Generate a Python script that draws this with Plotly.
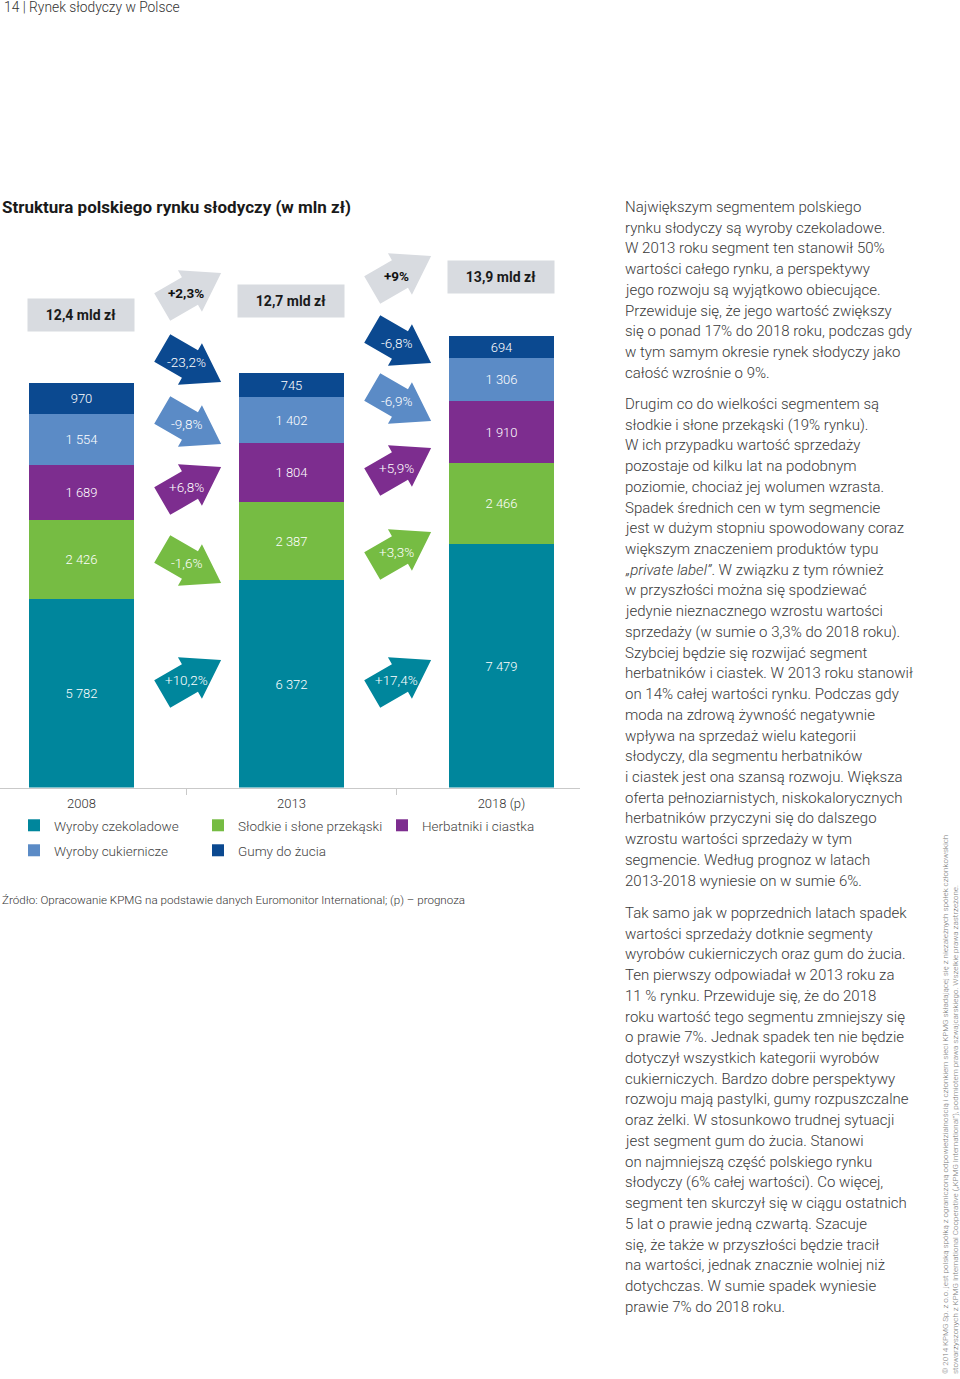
import math
import plotly.graph_objects as go

# ---------------- data ----------------
YEARS = ["2008", "2013", "2018 (p)"]
SERIES = ["Wyroby czekoladowe", "Słodkie i słone przekąski", "Herbatniki i ciastka",
          "Wyroby cukiernicze", "Gumy do żucia"]
CHOCOLATE = [5782, 6372, 7479]
SNACKS = [2426, 2387, 2466]
BISCUITS = [1689, 1804, 1910]
CONFECTIONERY = [1554, 1402, 1306]
GUM = [970, 745, 694]
CHANGE_2008_2013 = ["+10,2%", "-1,6%", "+6,8%", "-9,8%", "-23,2%"]
CHANGE_2013_2018 = ["+17,4%", "+3,3%", "+5,9%", "-6,9%", "-6,8%"]
TOTAL_CHANGE = ["+2,3%", "+9%"]

HEADER = "14 | Rynek słodyczy w Polsce"
TITLE = "Struktura polskiego rynku słodyczy (w mln zł)"
SOURCE = "Źródło: Opracowanie KPMG na podstawie danych Euromonitor International; (p) – prognoza"
PARAGRAPHS = [
    ["Największym segmentem polskiego",
     "rynku słodyczy są wyroby czekoladowe.",
     "W 2013 roku segment ten stanowił 50%",
     "wartości całego rynku, a perspektywy",
     "jego rozwoju są wyjątkowo obiecujące.",
     "Przewiduje się, że jego wartość zwiększy",
     "się o ponad 17% do 2018 roku, podczas gdy",
     "w tym samym okresie rynek słodyczy jako",
     "całość wzrośnie o 9%."],
    ["Drugim co do wielkości segmentem są",
     "słodkie i słone przekąski (19% rynku).",
     "W ich przypadku wartość sprzedaży",
     "pozostaje od kilku lat na podobnym",
     "poziomie, chociaż jej wolumen wzrasta.",
     "Spadek średnich cen w tym segmencie",
     "jest w dużym stopniu spowodowany coraz",
     "większym znaczeniem produktów typu",
     "<i>„private label”</i>. W związku z tym również",
     "w przyszłości można się spodziewać",
     "jedynie nieznacznego wzrostu wartości",
     "sprzedaży (w sumie o 3,3% do 2018 roku).",
     "Szybciej będzie się rozwijać segment",
     "herbatników i ciastek. W 2013 roku stanowił",
     "on 14% całej wartości rynku. Podczas gdy",
     "moda na zdrową żywność negatywnie",
     "wpływa na sprzedaż wielu kategorii",
     "słodyczy, dla segmentu herbatników",
     "i ciastek jest ona szansą rozwoju. Większa",
     "oferta pełnoziarnistych, niskokalorycznych",
     "herbatników przyczyni się do dalszego",
     "wzrostu wartości sprzedaży w tym",
     "segmencie. Według prognoz w latach",
     "2013-2018 wyniesie on w sumie 6%."],
    ["Tak samo jak w poprzednich latach spadek",
     "wartości sprzedaży dotknie segmenty",
     "wyrobów cukierniczych oraz gum do żucia.",
     "Ten pierwszy odpowiadał w 2013 roku za",
     "11 % rynku. Przewiduje się, że do 2018",
     "roku wartość tego segmentu zmniejszy się",
     "o prawie 7%. Jednak spadek ten nie będzie",
     "dotyczył wszystkich kategorii wyrobów",
     "cukierniczych. Bardzo dobre perspektywy",
     "rozwoju mają pastylki, gumy rozpuszczalne",
     "oraz żelki. W stosunkowo trudnej sytuacji",
     "jest segment gum do żucia. Stanowi",
     "on najmniejszą część polskiego rynku",
     "słodyczy (6% całej wartości). Co więcej,",
     "segment ten skurczył się w ciągu ostatnich",
     "5 lat o prawie jedną czwartą. Szacuje",
     "się, że także w przyszłości będzie tracił",
     "na wartości, jednak znacznie wolniej niż",
     "dotychczas. W sumie spadek wyniesie",
     "prawie 7% do 2018 roku."],
]
COPYRIGHT = ("© 2014 KPMG Sp. z o.o. jest polską spółką z ograniczoną odpowiedzialnością i członkiem sieci KPMG "
             "składającej się z niezależnych spółek członkowskich<br>"
             "stowarzyszonych z KPMG International Cooperative („KPMG International”), podmiotem prawa "
             "szwajcarskiego. Wszelkie prawa zastrzeżone.")

# ---------------- styles / layout ----------------
W, H = 960, 1379
COLORS = ["#00869C", "#76BC43", "#7D2D8F", "#5B8BC6", "#0B4990"]
GRAY_BOX = "#D8DBE0"
TEXT = "#333333"
FONT = "Roboto"
LIGHT = 300

BASE_PX = 787.5      # baseline of bars
TOP_PX = 180         # top of plot area
PX_PER_UNIT = 0.0326
YMAX = (BASE_PX - TOP_PX) / PX_PER_UNIT
X_RANGE = [-0.388, 2.374]
X_DOMAIN = [0, 580 / W]


def py(p):
    return 1 - p / H


series_vals = [CHOCOLATE, SNACKS, BISCUITS, CONFECTIONERY, GUM]
fig = go.Figure()
for i, (name, vals) in enumerate(zip(SERIES, series_vals)):
    fig.add_trace(go.Bar(
        x=YEARS, y=vals, name=name,
        marker=dict(color=COLORS[i], line=dict(width=0)),
        width=0.5,
        text=[f"{v:,}".replace(",", " ") for v in vals],
        textposition="inside", insidetextanchor="middle", textangle=0,
        textfont=dict(color="white", size=13, family=FONT, weight=LIGHT),
        constraintext="none",
        legend="legend" if i < 3 else "legend2",
        hoverinfo="name+y",
    ))

totals = [sum(v[k] for v in series_vals) for k in range(3)]

annotations = []
shapes = []

# total boxes
BOX_SHIFT = [68, 72, 59]
for k, t in enumerate(totals):
    annotations.append(dict(
        x=k, y=t, xref="x", yref="y", yshift=BOX_SHIFT[k],
        text=f"<b>{t/1000:.1f} mld zł</b>".replace(".", ","),
        showarrow=False, bgcolor=GRAY_BOX, width=100, height=26, borderpad=3,
        font=dict(size=14, color="#1a1a1a", family=FONT),
    ))


def arrow_path(angle_deg):
    pts = [(-28, 16), (4, 16), (4, 24), (40, 0), (4, -24), (4, -16), (-28, -16)]
    a = math.radians(angle_deg)
    out = []
    for x, y in pts:
        out.append((x * math.cos(a) - y * math.sin(a), x * math.sin(a) + y * math.cos(a)))
    return "M " + " L ".join(f"{x:.2f},{y:.2f}" for x, y in out) + " Z"


ARROW_ROWS = [
    (0.5, CHANGE_2008_2013, TOTAL_CHANGE[0], [680, 563, 487, 424, 362], 293),
    (1.5, CHANGE_2013_2018, TOTAL_CHANGE[1], [680, 552, 468, 401, 343], 276),
]
for xmid, changes, total_lbl, rows, total_row in ARROW_ROWS:
    items = [(changes[i], COLORS[i], rows[i], "white", False) for i in range(5)]
    items.append((total_lbl, GRAY_BOX, total_row, "#111111", True))
    for lbl, col, rowpx, tcol, bold in items:
        ang = -30 if lbl.startswith("-") else 30
        shapes.append(dict(
            type="path", path=arrow_path(ang), xref="x", yref="paper",
            xsizemode="pixel", ysizemode="pixel", xanchor=xmid, yanchor=py(rowpx),
            fillcolor=col, line=dict(width=0), layer="above",
        ))
        annotations.append(dict(
            x=xmid, y=py(rowpx), xref="x", yref="paper", showarrow=False,
            text=f"<b>{lbl}</b>" if bold else lbl,
            font=dict(size=13.5, color=tcol, family=FONT, weight=700 if bold else LIGHT),
            xanchor="center", yanchor="middle",
        ))

# page texts
annotations.append(dict(x=2 / W, y=py(7), xref="paper", yref="paper", text=HEADER,
                        showarrow=False, xanchor="left", yanchor="middle",
                        font=dict(size=13.8, color=TEXT, family=FONT, weight=LIGHT)))
annotations.append(dict(x=0 / W, y=py(207), xref="paper", yref="paper", text=f"<b>{TITLE}</b>",
                        showarrow=False, xanchor="left", yanchor="middle",
                        font=dict(size=17, color="#1a1a1a", family=FONT)))
annotations.append(dict(x=0 / W, y=py(900), xref="paper", yref="paper", text=SOURCE,
                        showarrow=False, xanchor="left", yanchor="middle",
                        font=dict(size=11.6, color=TEXT, family=FONT, weight=LIGHT)))

PARA_START = [207, 404, 913]
LINE_H = 20.72
for start, lines in zip(PARA_START, PARAGRAPHS):
    for j, line in enumerate(lines):
        annotations.append(dict(
            x=623 / W, y=py(start + j * LINE_H), xref="paper", yref="paper", text=line,
            showarrow=False, xanchor="left", yanchor="middle",
            font=dict(size=15, color="#3a3a3a", family=FONT, weight=LIGHT)))

annotations.append(dict(x=939 / W, y=py(1376), xref="paper", yref="paper", text=COPYRIGHT,
                        showarrow=False, xanchor="left", yanchor="bottom", textangle=-90,
                        align="left", font=dict(size=8, color="#7a7a7a", family=FONT, weight=LIGHT)))

legend_common = dict(orientation="h", xanchor="left", yanchor="top", bgcolor="rgba(0,0,0,0)",
                     font=dict(size=13.5, color="#444444", family=FONT, weight=LIGHT),
                     entrywidth=139,
                     itemclick=False, itemdoubleclick=False, traceorder="normal")

fig.update_layout(
    width=W, height=H, margin=dict(l=0, r=0, t=0, b=0),
    paper_bgcolor="white", plot_bgcolor="white",
    barmode="stack", bargap=0,
    showlegend=True,
    legend=dict(x=14 / W, y=py(810), **legend_common),
    legend2=dict(x=14 / W, y=py(835), **legend_common),
    xaxis=dict(domain=X_DOMAIN, range=X_RANGE, type="category", tickson="boundaries",
               showline=True, linecolor="#C9C9C9", linewidth=1, ticks="outside", ticklen=6,
               tickcolor="#C9C9C9", showgrid=False, zeroline=False, fixedrange=True,
               ticklabelstandoff=4,
               tickfont=dict(size=13, color=TEXT, family=FONT, weight=LIGHT), anchor="y"),
    yaxis=dict(domain=[py(BASE_PX), py(TOP_PX)], range=[0, YMAX], visible=False,
               fixedrange=True),
    annotations=annotations, shapes=shapes,
    font=dict(family=FONT, color=TEXT),
)

fig.write_html("out.html", config={"displayModeBar": False},
               post_script="document.body.style.margin='0';document.body.style.padding='0';")
